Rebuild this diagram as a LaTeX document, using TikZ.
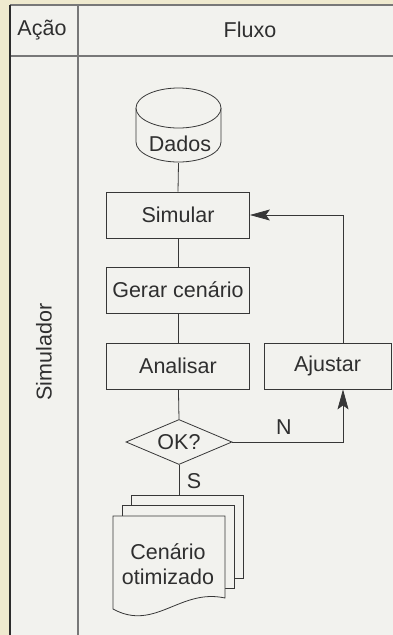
\documentclass[tikz,border=0pt]{standalone}
\usepackage{fontspec}
\setmainfont{Liberation Sans}
\usetikzlibrary{shapes.geometric,arrows.meta}
\definecolor{beige}{RGB}{239,234,207}
\definecolor{paper}{RGB}{242,242,238}
\definecolor{ink}{RGB}{55,55,55}
\definecolor{rule}{RGB}{120,120,120}
\tikzset{
  txt/.style={font=\fontsize{21.5}{25}\selectfont, text=ink!85!black, inner sep=0pt},
  box/.style={txt, draw=ink, line width=0.8pt, fill=paper, minimum height=46pt, minimum width=143pt},
  conn/.style={draw=ink, line width=0.8pt},
  arr/.style={conn, -{Stealth[length=20pt,width=11pt,inset=4pt]}},
  docshape/.style={draw=ink, line width=0.8pt, fill=paper}
}
\begin{document}
\begin{tikzpicture}[x=1pt,y=-1pt]
\useasboundingbox (0,0) rectangle (393,635);
\fill[beige] (0,0) rectangle (393,635);
\fill[paper] (10,5) rectangle (393,635);
\draw[rule, line width=2pt] (10,5) -- (393,5);
\draw[rule, line width=2pt] (10,56) -- (393,56);
\draw[rule, line width=2pt] (78,5) -- (78,635);
\draw[ink!80!black, line width=1.5pt] (10,5) -- (10,635);

\node[txt] (acao) at (42,30) {Ação};
\node[txt] (fluxo) at (250,30) {Fluxo};
\node[txt, rotate=90] (simulador) at (44,352) {Simulador};

% Dados cylinder
\node[minimum width=85pt, minimum height=76pt, inner sep=0pt] (dados) at (178.5,125) {};
\draw[docshape] (136,108) -- (136,142) arc[start angle=180, end angle=0, x radius=42.5, y radius=20] -- (221,108);
\draw[docshape] (178.5,108) ellipse [x radius=42.5, y radius=20];
\node[txt] (dadostxt) at (180,144) {Dados};

\node[box] (simular) at (178,215) {Simular};
\node[box] (gerar) at (178,290) {Gerar cenário};
\node[box] (analisar) at (178,366) {Analisar};
\node[box, minimum width=127pt] (ajustar) at (327.5,366) {Ajustar};
\node[txt, draw=ink, line width=0.8pt, fill=paper, shape=diamond, aspect=2.36, minimum width=106pt, minimum height=45pt] (ok) at (179,442) {OK?};

% document stack
\draw[docshape] (131,495) rectangle (243,578);
\draw[docshape] (122,505) rectangle (234,588);
\draw[docshape] (113,516) -- (225,516) -- (225,598) .. controls (180,588) and (155,632) .. (113,609) -- cycle;
\node[txt, align=center] (doc) at (168,564) {Cenário\\otimizado};
\coordinate (docback) at (179,495);
\coordinate (fbx) at (343,0);

\draw[conn] (dados.south) -- (simular.north);
\draw[conn] (simular) -- (gerar);
\draw[conn] (gerar) -- (analisar);
\draw[conn] (analisar) -- (ok.north);
\draw[conn] (ok.south) -- (docback);
\draw[arr] (ok.east) -| (fbx |- ajustar.south);
\draw[arr] (fbx |- ajustar.north) |- (simular.east);
\node[txt] (nlab) at (284,427) {N};
\node[txt] (slab) at (194,481) {S};
\end{tikzpicture}
\end{document}
